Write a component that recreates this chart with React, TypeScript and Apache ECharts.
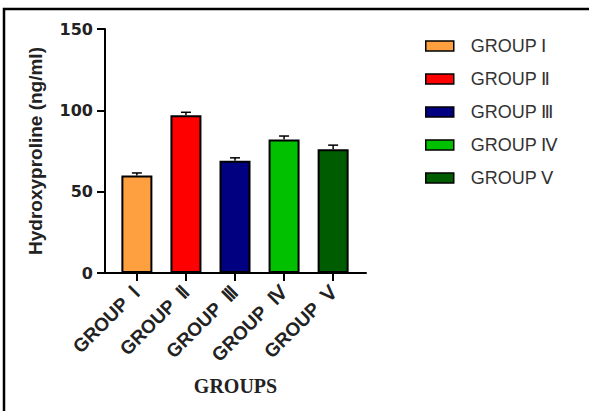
import React, { useEffect, useRef } from "react";
import * as echarts from "echarts";

const categories = ["GROUP Ⅰ", "GROUP Ⅱ", "GROUP Ⅲ", "GROUP Ⅳ", "GROUP Ⅴ"];
const values = [60, 97, 69, 82, 76];
const errors = [1.5, 1.8, 1.8, 2.2, 2.6];
const colors = ["#FFA040", "#FF0000", "#000080", "#00C000", "#005C00"];
const yTicks = [0, 50, 100, 150];

export default function App() {
  const ref = useRef<HTMLDivElement>(null);
  useEffect(() => {
    if (!ref.current) return;
    const chart = echarts.init(ref.current, null, { renderer: "svg" });
    const positions = categories.map((_, i) => i);
    const barSeries = categories.map((name, i) => ({
      type: "bar",
      name,
      data: [[i, values[i]]],
      barWidth: 31,
      barGap: "-100%",
      itemStyle: { color: colors[i], borderColor: "#000", borderWidth: 2 },
      z: 2,
    }));
    const errSeries = {
      type: "custom",
      name: "err",
      data: values.map((v, i) => [i, v, errors[i]]),
      z: 3,
      renderItem: (params: any, api: any) => {
        const x = api.value(0);
        const v = api.value(1);
        const e = api.value(2);
        const top = api.coord([x, v + e]);
        const base = api.coord([x, v]);
        const half = 5;
        return {
          type: "group",
          children: [
            {
              type: "line",
              shape: { x1: top[0], y1: top[1], x2: base[0], y2: base[1] },
              style: { stroke: "#000", lineWidth: 1.5 },
            },
            {
              type: "line",
              shape: { x1: top[0] - half, y1: top[1], x2: top[0] + half, y2: top[1] },
              style: { stroke: "#000", lineWidth: 1.5 },
            },
          ],
        };
      },
    };
    chart.setOption({
      animation: false,
      backgroundColor: "#fff",
      grid: { left: 105, right: 223, top: 29, bottom: 138, containLabel: false },
      legend: {
        orient: "vertical",
        left: 425,
        top: 37,
        padding: 0,
        icon: "rect",
        itemWidth: 28,
        itemHeight: 10,
        itemGap: 15,
        data: categories,
        textStyle: { fontSize: 18, color: "#333", fontFamily: "Liberation Sans, Arial, sans-serif", padding: [0, 0, 0, 12] },
        itemStyle: { borderColor: "#000", borderWidth: 1.5 },
      },
      xAxis: {
        type: "value",
        min: -0.65,
        max: 4.67,
        name: "GROUPS",
        nameLocation: "middle",
        nameGap: 103,
        nameTextStyle: { fontFamily: "Liberation Serif, Times New Roman, serif", fontWeight: "bold", fontSize: 20, color: "#222" },
        splitLine: { show: false },
        axisLine: { show: true, onZero: false, lineStyle: { color: "#000", width: 2 } },
        axisTick: { show: true, customValues: positions, length: 8, lineStyle: { color: "#000", width: 2 } },
        axisLabel: {
          customValues: positions,
          rotate: 45,
          margin: 16,
          formatter: (v: number) => (categories[Math.round(v)] ?? "").replace(" ", "  "),
          fontFamily: "Liberation Sans, Arial, sans-serif",
          fontWeight: "bold",
          fontSize: 19,
          color: "#222",
        },
      },
      yAxis: {
        type: "value",
        min: 0,
        max: 150,
        interval: 50,
        name: "Hydroxyproline (ng/ml)",
        nameLocation: "middle",
        nameGap: 60,
        nameTextStyle: { fontFamily: "Liberation Sans, Arial, sans-serif", fontWeight: "bold", fontSize: 19, color: "#222" },
        splitLine: { show: false },
        axisLine: { show: true, onZero: false, lineStyle: { color: "#000", width: 2 } },
        axisTick: { show: true, length: 8, lineStyle: { color: "#000", width: 2 } },
        axisLabel: {
          margin: 12,
          formatter: (v: number) => (yTicks.includes(v) ? String(v) : ""),
          fontFamily: "DejaVu Sans, sans-serif",
          fontWeight: "bold",
          fontSize: 16,
          color: "#222",
        },
      },
      graphic: [
        {
          type: "rect",
          shape: { x: 4, y: 9, width: 620, height: 440 },
          style: { fill: "none", stroke: "#000", lineWidth: 2.5 },
          silent: true,
        },
      ],
      series: [...barSeries, errSeries],
    });
    return () => chart.dispose();
  }, []);
  return (
    <div
      ref={ref}
      style={{ position: "fixed", left: 0, top: 0, width: 589, height: 411 }}
    />
  );
}
